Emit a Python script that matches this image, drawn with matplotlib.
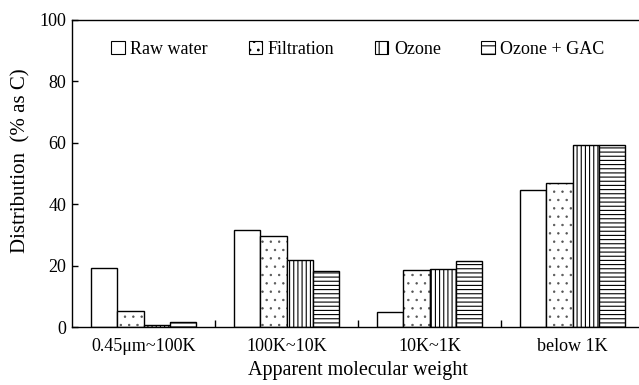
import numpy as np
import matplotlib.pyplot as plt

plt.rcParams['font.family'] = ['Liberation Serif', 'DejaVu Serif']
plt.rcParams['hatch.linewidth'] = 0.8

# Data
groups = ['0.45μm~100K', '100K~10K', '10K~1K', 'below 1K']
series = ['Raw water', 'Filtration', 'Ozone', 'Ozone + GAC']
raw_water = [19.2, 31.5, 4.8, 44.7]
filtration = [5.1, 29.7, 18.6, 47.0]
ozone = [0.7, 21.7, 18.9, 59.2]
ozone_gac = [1.7, 18.1, 21.5, 59.2]
values = [raw_water, filtration, ozone, ozone_gac]
hatches = ['', '..', '||||', '----']
hatch_colors = ['black', '#555555', 'black', 'black']

fig = plt.figure(figsize=(6.39, 3.85), dpi=100)
ax = fig.add_axes([72/639, 1-327/385, 572/639, 307/385])

x = np.arange(len(groups))
w = 0.183
for i, (vals, name, h, hc) in enumerate(zip(values, series, hatches, hatch_colors)):
    pos = x + (i - 1.5)*w
    # hatch layer (hatch takes the edge colour)
    bars = ax.bar(pos, vals, w, color='white', edgecolor=hc, linewidth=0, hatch=h)
    if h == '..':
        for b in bars:
            if hasattr(b, 'set_hatch_linewidth'):
                b.set_hatch_linewidth(0.5)
    # outline layer
    ax.bar(pos, vals, w, fill=False, edgecolor='black', linewidth=1.0)

ax.set_xlim(-0.5, 3.5)
ax.set_ylim(0, 100)
ax.set_yticks([0, 20, 40, 60, 80, 100])
ax.set_xticks(x)
ax.set_xticklabels(groups)
ax.set_xticks([0.5, 1.5, 2.5], minor=True)
ax.tick_params(axis='x', which='major', length=0, pad=8, labelsize=13)
ax.tick_params(axis='x', which='minor', direction='in', length=5, width=1)
ax.tick_params(axis='y', direction='in', length=4, width=1, labelsize=13, pad=4)
ax.spines['right'].set_visible(False)
for s in ['left', 'bottom', 'top']:
    ax.spines[s].set_linewidth(1.0)

fig.text(21/639, 1-161/385, 'Distribution  (% as C)', rotation=90,
         ha='center', va='center', fontsize=15)
fig.text(358/639, 1-370/385, 'Apparent molecular weight',
         ha='center', va='center', fontsize=14.5)

# legend handles built from the same styles
handles = []
for name, h in zip(series, hatches):
    handles.append(plt.Rectangle((0, 0), 1, 1, facecolor='white', edgecolor='black',
                                 linewidth=0.8, hatch=h.replace('----', '--').replace('||||', '||'),
                                 label=name))
ax.legend(handles=handles, loc='center', bbox_to_anchor=(0.5, (327-49.5)/307), ncol=4,
          frameon=False, fontsize=13, handlelength=0.75, handleheight=0.75,
          handletextpad=0.3, columnspacing=2.25)

fig.savefig('out.png', dpi=100)
